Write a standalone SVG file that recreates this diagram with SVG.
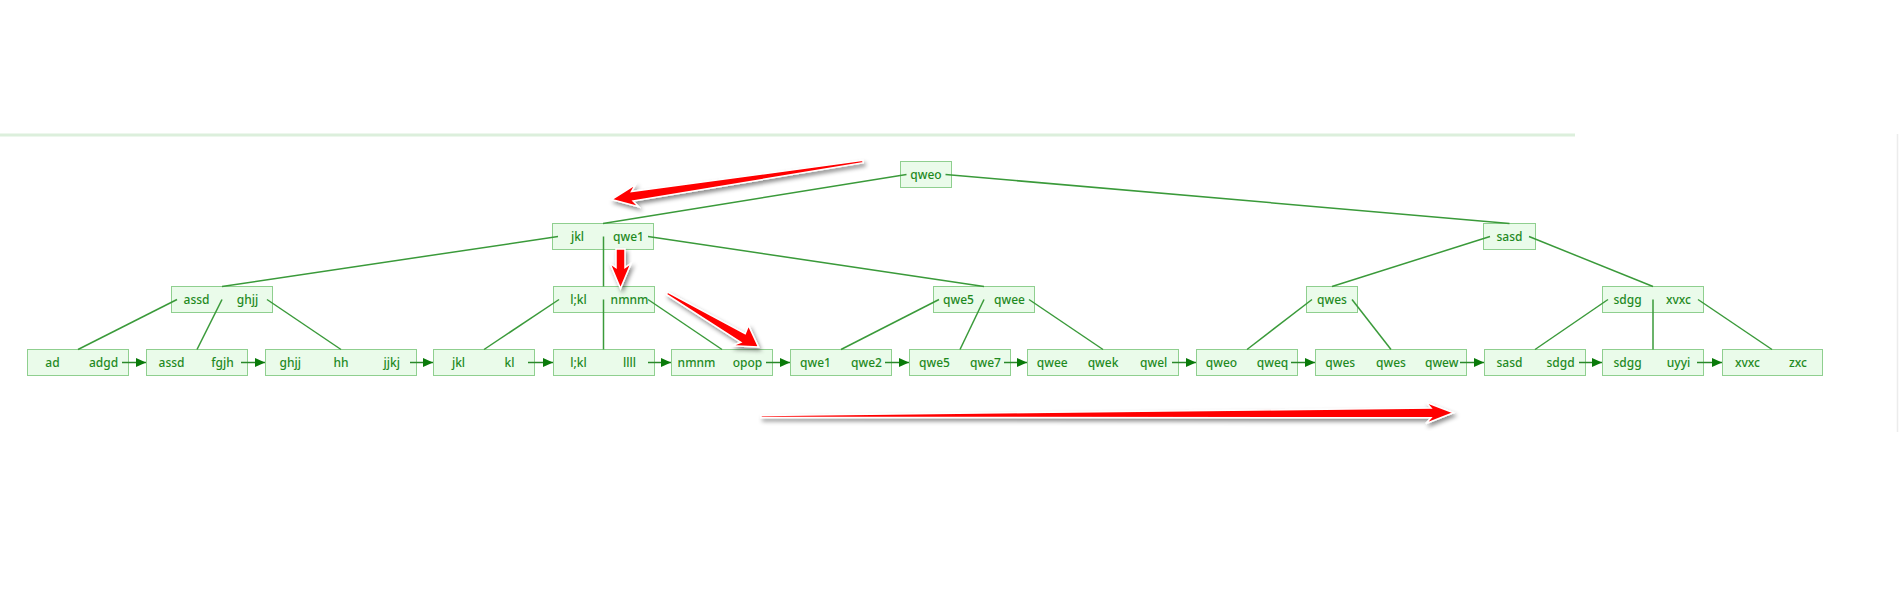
<svg xmlns="http://www.w3.org/2000/svg" width="1899" height="606" viewBox="0 0 1899 606">
<style>
.box{fill:#eafbea;stroke:#8fcf8f;stroke-width:1}
.t{font-family:"Noto Sans","DejaVu Sans",sans-serif;font-size:12px;font-weight:500;fill:#1f8a1f;text-anchor:middle}
.e{stroke:#3a9a3a;stroke-width:1.5;fill:none}
.l{stroke:#2a882a;stroke-width:1.5;fill:none}
.ra{fill:#ff0000;stroke:#ffffff;stroke-width:1.5;stroke-linejoin:miter;filter:url(#sh)}
</style>
<defs>
<marker id="ah" markerUnits="userSpaceOnUse" markerWidth="11" markerHeight="9" refX="10" refY="4.5" orient="auto">
<path d="M0,0 L10,4.5 L0,9 Z" fill="#0a7a0a"/>
</marker>
<filter id="sh" x="-50%" y="-100%" width="200%" height="300%">
<feDropShadow dx="2" dy="3" stdDeviation="2" flood-color="#000" flood-opacity="0.45"/>
</filter>
</defs>
<rect width="1899" height="606" fill="#ffffff"/>
<rect x="0" y="133.5" width="1575" height="3" fill="#dcefdc"/>
<line x1="1897.5" y1="134" x2="1897.5" y2="432" stroke="#ececec" stroke-width="1.5"/>

<g id="root-qweo"><rect class="box" x="900.5" y="161.5" width="51" height="26"/><text class="t" x="926" y="178.5">qweo</text></g>
<g id="n-jkl-qwe1"><rect class="box" x="552.5" y="223.5" width="101" height="26"/><text class="t" x="577.5" y="240.5">jkl</text><text class="t" x="628.5" y="240.5">qwe1</text></g>
<g id="n-sasd"><rect class="box" x="1483.5" y="223.5" width="52" height="26"/><text class="t" x="1509.5" y="240.5">sasd</text></g>
<g id="n-assd-ghjj"><rect class="box" x="171.5" y="286.5" width="101" height="26"/><text class="t" x="196.5" y="303.5">assd</text><text class="t" x="247.5" y="303.5">ghjj</text></g>
<g id="n-lkl-nmnm"><rect class="box" x="553.5" y="286.5" width="101" height="26"/><text class="t" x="578.5" y="303.5">l;kl</text><text class="t" x="629.5" y="303.5">nmnm</text></g>
<g id="n-qwe5-qwee"><rect class="box" x="933.5" y="286.5" width="101" height="26"/><text class="t" x="958.5" y="303.5">qwe5</text><text class="t" x="1009.5" y="303.5">qwee</text></g>
<g id="n-qwes"><rect class="box" x="1306.5" y="286.5" width="51" height="26"/><text class="t" x="1332" y="303.5">qwes</text></g>
<g id="n-sdgg-xvxc"><rect class="box" x="1602.5" y="286.5" width="101" height="26"/><text class="t" x="1627.5" y="303.5">sdgg</text><text class="t" x="1678.5" y="303.5">xvxc</text></g>

<g id="leaf1"><rect class="box" x="27.5" y="349.5" width="101" height="26"/><text class="t" x="52.5" y="366.5">ad</text><text class="t" x="103.5" y="366.5">adgd</text></g>
<g id="leaf2"><rect class="box" x="146.5" y="349.5" width="101" height="26"/><text class="t" x="171.5" y="366.5">assd</text><text class="t" x="222.5" y="366.5">fgjh</text></g>
<g id="leaf3"><rect class="box" x="265.5" y="349.5" width="151" height="26"/><text class="t" x="290.3" y="366.5">ghjj</text><text class="t" x="341" y="366.5">hh</text><text class="t" x="391.7" y="366.5">jjkj</text></g>
<g id="leaf4"><rect class="box" x="433.5" y="349.5" width="101" height="26"/><text class="t" x="458.5" y="366.5">jkl</text><text class="t" x="509.5" y="366.5">kl</text></g>
<g id="leaf5"><rect class="box" x="553.5" y="349.5" width="101" height="26"/><text class="t" x="578.5" y="366.5">l;kl</text><text class="t" x="629.5" y="366.5">llll</text></g>
<g id="leaf6"><rect class="box" x="671.5" y="349.5" width="101" height="26"/><text class="t" x="696.5" y="366.5">nmnm</text><text class="t" x="747.5" y="366.5">opop</text></g>
<g id="leaf7"><rect class="box" x="790.5" y="349.5" width="101" height="26"/><text class="t" x="815.5" y="366.5">qwe1</text><text class="t" x="866.5" y="366.5">qwe2</text></g>
<g id="leaf8"><rect class="box" x="909.5" y="349.5" width="101" height="26"/><text class="t" x="934.5" y="366.5">qwe5</text><text class="t" x="985.5" y="366.5">qwe7</text></g>
<g id="leaf9"><rect class="box" x="1027.5" y="349.5" width="151" height="26"/><text class="t" x="1052.3" y="366.5">qwee</text><text class="t" x="1103" y="366.5">qwek</text><text class="t" x="1153.7" y="366.5">qwel</text></g>
<g id="leaf10"><rect class="box" x="1196.5" y="349.5" width="101" height="26"/><text class="t" x="1221.5" y="366.5">qweo</text><text class="t" x="1272.5" y="366.5">qweq</text></g>
<g id="leaf11"><rect class="box" x="1315.5" y="349.5" width="151" height="26"/><text class="t" x="1340.3" y="366.5">qwes</text><text class="t" x="1391" y="366.5">qwes</text><text class="t" x="1441.7" y="366.5">qwew</text></g>
<g id="leaf12"><rect class="box" x="1484.5" y="349.5" width="101" height="26"/><text class="t" x="1509.5" y="366.5">sasd</text><text class="t" x="1560.5" y="366.5">sdgd</text></g>
<g id="leaf13"><rect class="box" x="1602.5" y="349.5" width="101" height="26"/><text class="t" x="1627.5" y="366.5">sdgg</text><text class="t" x="1678.5" y="366.5">uyyi</text></g>
<g id="leaf14"><rect class="box" x="1722.5" y="349.5" width="100" height="26"/><text class="t" x="1747.5" y="366.5">xvxc</text><text class="t" x="1798" y="366.5">zxc</text></g>

<g id="connectors">
<line class="e" x1="906.5" y1="174.5" x2="603" y2="223.5"/>
<line class="e" x1="945.5" y1="174.5" x2="1509.5" y2="223.5"/>
<line class="e" x1="558" y1="236.5" x2="222" y2="286.5"/>
<line class="e" x1="603.5" y1="236.5" x2="603.5" y2="286.5"/>
<line class="e" x1="648" y1="236.5" x2="984" y2="286.5"/>
<line class="e" x1="1490" y1="236.5" x2="1332" y2="286.5"/>
<line class="e" x1="1529" y1="236.5" x2="1653" y2="286.5"/>
<line class="e" x1="177" y1="299.5" x2="78" y2="349.5"/>
<line class="e" x1="222" y1="299.5" x2="197" y2="349.5"/>
<line class="e" x1="267" y1="299.5" x2="341" y2="349.5"/>
<line class="e" x1="559" y1="299.5" x2="484" y2="349.5"/>
<line class="e" x1="603.5" y1="299.5" x2="603.5" y2="349.5"/>
<line class="e" x1="648" y1="299.5" x2="722" y2="349.5"/>
<line class="e" x1="939" y1="299.5" x2="841" y2="349.5"/>
<line class="e" x1="984" y1="299.5" x2="960" y2="349.5"/>
<line class="e" x1="1029" y1="299.5" x2="1103" y2="349.5"/>
<line class="e" x1="1312" y1="299.5" x2="1247" y2="349.5"/>
<line class="e" x1="1352" y1="299.5" x2="1391" y2="349.5"/>
<line class="e" x1="1608" y1="299.5" x2="1535" y2="349.5"/>
<line class="e" x1="1653" y1="299.5" x2="1653" y2="349.5"/>
<line class="e" x1="1698" y1="299.5" x2="1772" y2="349.5"/>
<line class="l" x1="122" y1="362.5" x2="146" y2="362.5" marker-end="url(#ah)"/>
<line class="l" x1="241" y1="362.5" x2="265" y2="362.5" marker-end="url(#ah)"/>
<line class="l" x1="410" y1="362.5" x2="433" y2="362.5" marker-end="url(#ah)"/>
<line class="l" x1="528" y1="362.5" x2="553" y2="362.5" marker-end="url(#ah)"/>
<line class="l" x1="648" y1="362.5" x2="671" y2="362.5" marker-end="url(#ah)"/>
<line class="l" x1="766" y1="362.5" x2="790" y2="362.5" marker-end="url(#ah)"/>
<line class="l" x1="885" y1="362.5" x2="909" y2="362.5" marker-end="url(#ah)"/>
<line class="l" x1="1004" y1="362.5" x2="1027" y2="362.5" marker-end="url(#ah)"/>
<line class="l" x1="1172" y1="362.5" x2="1196" y2="362.5" marker-end="url(#ah)"/>
<line class="l" x1="1291" y1="362.5" x2="1315" y2="362.5" marker-end="url(#ah)"/>
<line class="l" x1="1460" y1="362.5" x2="1484" y2="362.5" marker-end="url(#ah)"/>
<line class="l" x1="1579" y1="362.5" x2="1602" y2="362.5" marker-end="url(#ah)"/>
<line class="l" x1="1697" y1="362.5" x2="1722" y2="362.5" marker-end="url(#ah)"/>
</g>

<g id="red-arrows">
<polygon class="ra" points="862.8,160.3 631.5,191.6 635.4,184.5 611.5,199.5 638.7,206.8 633.1,201.1 863.2,162.7"/>
<polygon class="ra" points="616,249 625,249 625,267.5 631,263.5 620.5,288.5 610,263.5 616,267.5"/>
<polygon class="ra" points="667.6,292.2 745.2,333.6 748.5,325.5 758.5,347 732,345.8 740.8,342.3 666.4,294.4"/>
<polygon class="ra" points="761,415.5 1431,408 1426,402.3 1453.5,412.7 1426,423.5 1431,417.7 761,417.5"/>
</g>
</svg>
